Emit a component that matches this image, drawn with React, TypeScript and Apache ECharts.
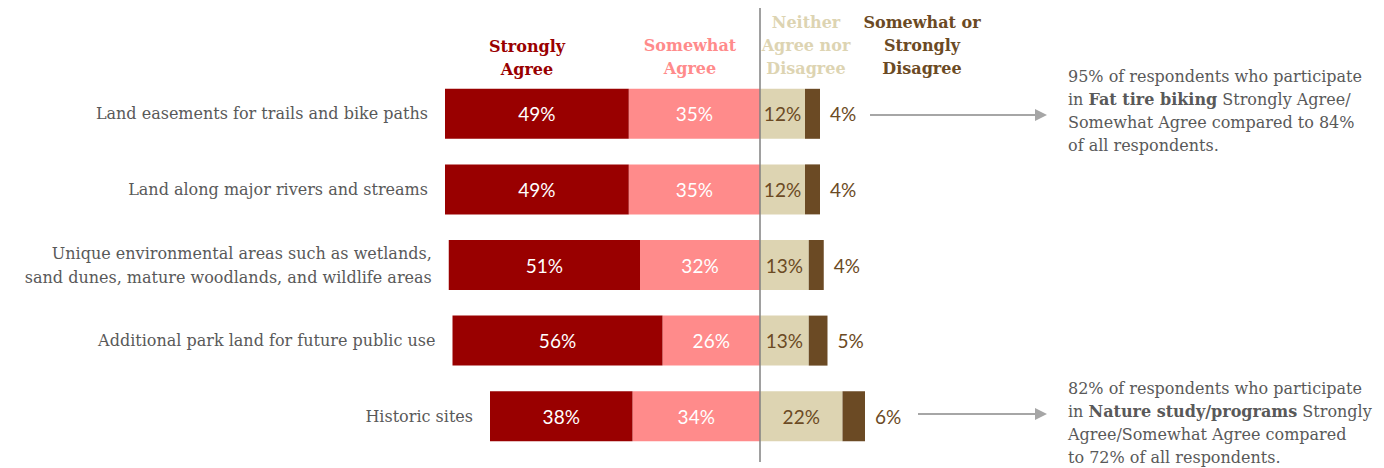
import React, { useEffect, useRef } from "react";
import * as echarts from "echarts";

const categories = [
  "Land easements for trails and bike paths",
  "Land along major rivers and streams",
  "Unique environmental areas such as wetlands,\nsand dunes, mature woodlands, and wildlife areas",
  "Additional park land for future public use",
  "Historic sites",
];
const stronglyAgree = [49, 49, 51, 56, 38];
const somewhatAgree = [35, 35, 32, 26, 34];
const neither = [12, 12, 13, 13, 22];
const disagree = [4, 4, 4, 5, 6];

const C_SA = "#990000";
const C_SWA = "#FF8B8B";
const C_N = "#DDD4B2";
const C_D = "#6B4A24";
const SERIF = '"DejaVu Serif", serif';
const SANS = 'Lato, "Open Sans", sans-serif';
const GRAY_TXT = "#595959";
const FS = 16;

export default function App() {
  const ref = useRef<HTMLDivElement>(null);
  useEffect(() => {
    document.body.style.margin = "0";
    const chart = echarts.init(ref.current!, null, { renderer: "svg" });
    const pct = (p: any) => Math.abs(p.value) + "%";
    const header = (text: string, x: number, y: number, color: string) => ({
      type: "text",
      x,
      y,
      style: {
        text,
        fill: color,
        fontFamily: SERIF,
        fontWeight: "bold",
        fontSize: FS,
        lineHeight: 23,
        align: "center",
        verticalAlign: "top",
      },
    });
    const note = (text: string, x: number, y: number) => ({
      type: "text",
      x,
      y,
      style: {
        text,
        fill: GRAY_TXT,
        fontFamily: SERIF,
        fontSize: FS,
        lineHeight: 23,
        align: "left",
        verticalAlign: "top",
        rich: {
          b: { fontFamily: SERIF, fontSize: FS, fontWeight: "bold", fill: GRAY_TXT, lineHeight: 23 },
        },
      },
    });
    const arrow = (x1: number, x2: number, y: number) => [
      { type: "line", shape: { x1, y1: y, x2: x2 - 10, y2: y }, style: { stroke: "#A6A6A6", lineWidth: 2 } },
      {
        type: "polygon",
        shape: { points: [[x2 - 12, y - 6], [x2, y], [x2 - 12, y + 6]] },
        style: { fill: "#A6A6A6" },
      },
    ];
    const inLabel = (color: string) => ({
      show: true,
      position: "inside",
      formatter: pct,
      color,
      fontFamily: SANS,
      fontSize: 19,
    });
    chart.setOption({
      animation: false,
      grid: { left: 385, width: 750, top: 76, height: 378 },
      xAxis: { type: "value", min: -100, max: 100, show: false },
      yAxis: {
        type: "category",
        data: categories,
        inverse: true,
        show: false,
      },
      series: [
        {
          name: "Somewhat Agree",
          type: "bar",
          stack: "all",
          barWidth: 50,
          data: somewhatAgree.map((v) => -v),
          itemStyle: { color: C_SWA },
          label: inLabel("#fff"),
        },
        {
          name: "Strongly Agree",
          type: "bar",
          stack: "all",
          barWidth: 50,
          data: stronglyAgree.map((v) => -v),
          itemStyle: { color: C_SA },
          label: inLabel("#fff"),
        },
        {
          name: "cat",
          type: "bar",
          stack: "all",
          barWidth: 50,
          silent: true,
          data: categories.map(() => -0.0001),
          itemStyle: { color: "transparent" },
          label: {
            show: true,
            position: "left",
            distance: 17,
            formatter: (p: any) => categories[p.dataIndex],
            color: GRAY_TXT,
            fontFamily: SERIF,
            fontSize: FS,
            lineHeight: 24,
            align: "right",
          },
        },
        {
          name: "Neither Agree nor Disagree",
          type: "bar",
          stack: "all",
          barWidth: 50,
          data: neither,
          itemStyle: { color: C_N },
          label: inLabel(C_D),
        },
        {
          name: "Somewhat or Strongly Disagree",
          type: "bar",
          stack: "all",
          barWidth: 50,
          data: disagree,
          itemStyle: { color: C_D },
          label: { show: true, position: "right", distance: 10, formatter: pct, color: C_D, fontFamily: SANS, fontSize: 19 },
        },
      ],
      graphic: [
        { type: "line", shape: { x1: 760, y1: 8, x2: 760, y2: 462 }, style: { stroke: "#808080", lineWidth: 1.5 }, z: 100 },
        header("Strongly\nAgree", 527, 34.5, C_SA),
        header("Somewhat\nAgree", 690, 33.5, C_SWA),
        header("Neither\nAgree nor\nDisagree", 806, 10.5, C_N),
        header("Somewhat or\nStrongly\nDisagree", 922, 10.5, C_D),
        note(
          "95% of respondents who participate\nin {b|Fat tire biking} Strongly Agree/\nSomewhat Agree compared to 84%\nof all respondents.",
          1068,
          64.5
        ),
        note(
          "82% of respondents who participate\nin {b|Nature study/programs} Strongly\nAgree/Somewhat Agree compared\nto 72% of all respondents.",
          1068,
          376.5
        ),
        ...arrow(870, 1047, 115),
        ...arrow(918, 1047, 414),
      ],
    });
    return () => chart.dispose();
  }, []);
  return <div ref={ref} style={{ width: 1384, height: 468 }} />;
}
